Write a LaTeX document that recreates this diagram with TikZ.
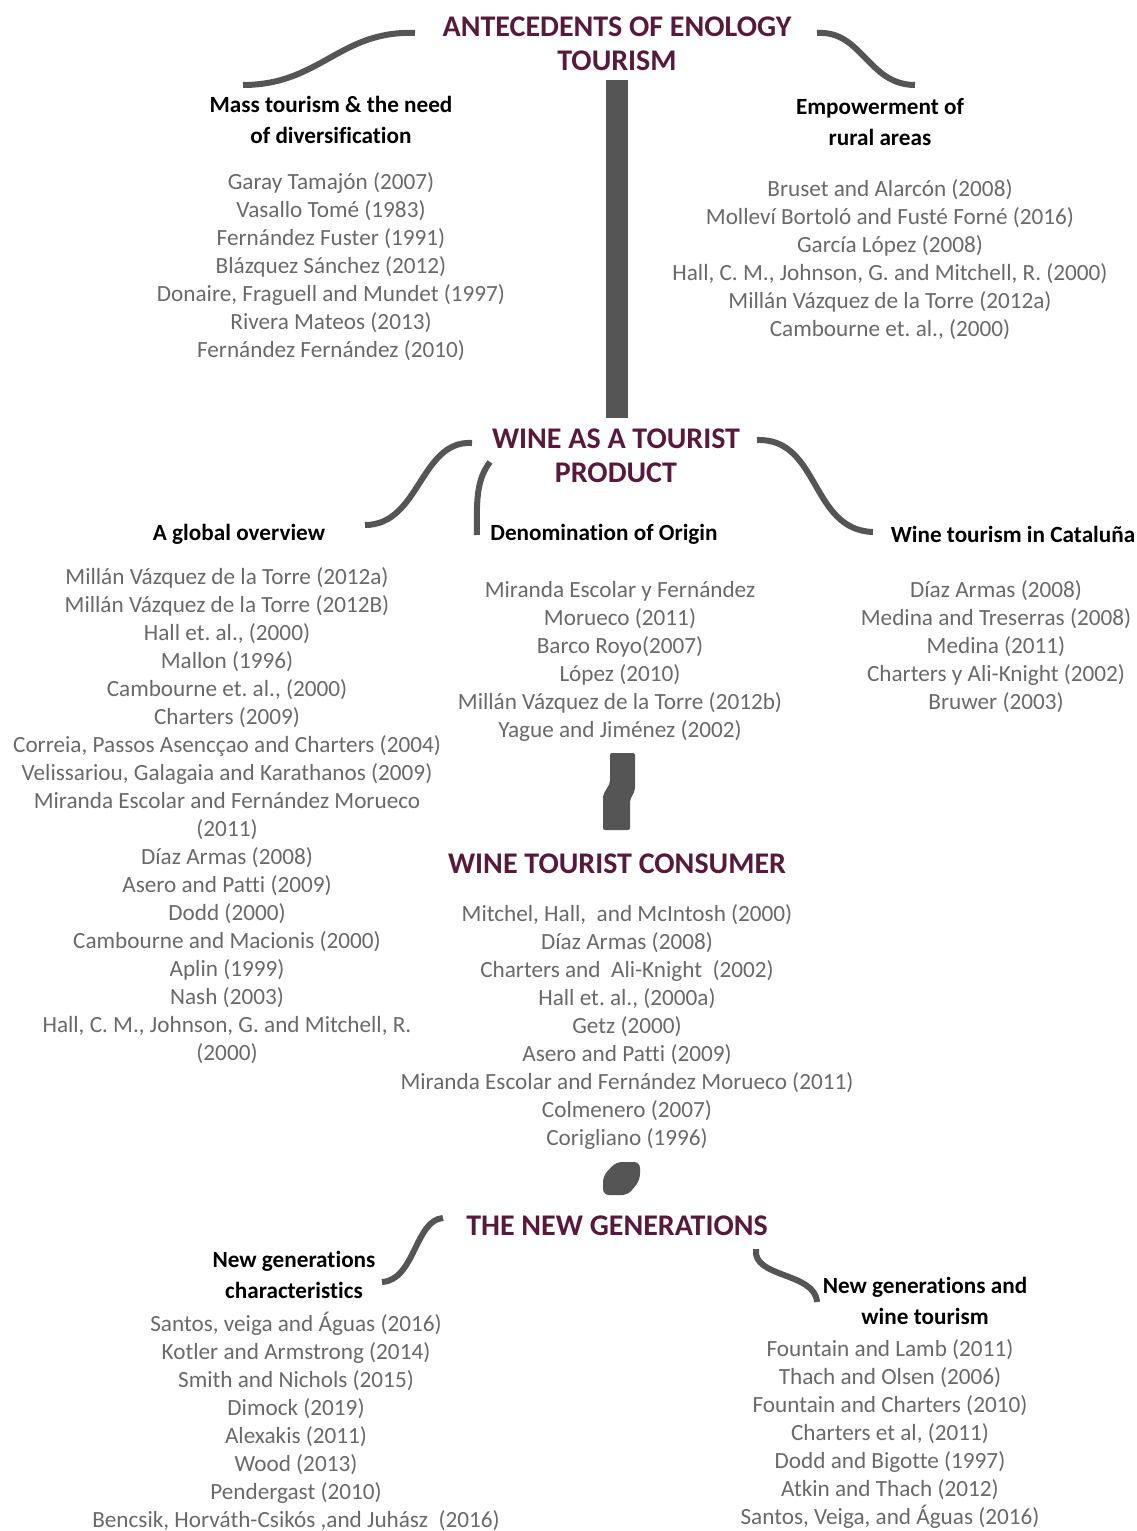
\documentclass[tikz,border=0pt]{standalone}
\usepackage{fontspec}
\setmainfont{Carlito}[Ligatures=NoCommon]
\frenchspacing
\definecolor{wine}{RGB}{88,26,58}
\definecolor{refgray}{RGB}{105,105,105}
\definecolor{linkgray}{RGB}{85,85,85}
\tikzset{
	heading/.style={font=\fontsize{30}{34}\selectfont\bfseries, text=wine, align=center, inner sep=0pt},
	subhead/.style={font=\fontsize{23.2}{31}\selectfont\bfseries, align=center, inner sep=0pt},
	refs/.style={font=\fontsize{23.2}{28}\selectfont, text=refgray, align=center, inner sep=0pt},
	link/.style={draw=linkgray, line width=6pt},
}
\begin{document}
\begin{tikzpicture}[x=1pt, y=-1pt]
	\useasboundingbox (0,0) rectangle (1137,1531);
	
	% Antecedents
	\node[heading] (ante) at (617,44) {ANTECEDENTS OF ENOLOGY\\TOURISM};
	\node[subhead] (mass) at (331,119.5) {Mass tourism \& the need\\of diversification};
	\node[refs] (massrefs) at (331,267) {Garay Tamajón (2007)\\Vasallo Tomé (1983)\\Fernández Fuster (1991)\\Blázquez Sánchez (2012)\\Donaire, Fraguell and Mundet (1997)\\Rivera Mateos (2013)\\Fernández Fernández (2010)};
	\node[subhead] (rural) at (880,122) {Empowerment of\\rural areas};
	\node[refs] (ruralrefs) at (890,260) {Bruset and Alarcón (2008)\\Molleví Bortoló and Fusté Forné (2016)\\García López (2008)\\Hall, C. M., Johnson, G. and Mitchell, R. (2000)\\Millán Vázquez de la Torre (2012a)\\Cambourne et. al., (2000)};
	\coordinate (a1) at (415,33);
	\coordinate (a2) at (243,85);
	\coordinate (a3) at (817,33);
	\coordinate (a4) at (915,85);
	\draw[link] (a1) .. controls (340,30) and (320,85) .. (a2);
	\draw[link] (a3) .. controls (862,30) and (868,85) .. (a4);
	
	% Wine as a tourist product
	\node[heading] (product) at (616,456) {WINE AS A TOURIST\\PRODUCT};
	\coordinate (b1) at (606,80);
	\coordinate (b2) at (628,418);
	\fill[linkgray] (b1) rectangle (b2);
	\node[subhead] (global) at (239,534) {A global overview};
	\node[subhead] (origin) at (604,534) {Denomination of Origin};
	\node[subhead] (cataluna) at (1013,534) {Wine tourism in Cataluña};
	\node[refs] (globalrefs) at (227,815.5) {Millán Vázquez de la Torre (2012a)\\Millán Vázquez de la Torre (2012B)\\Hall et. al., (2000)\\Mallon (1996)\\Cambourne et. al., (2000)\\Charters (2009)\\Correia, Passos Asencçao and Charters (2004)\\Velissariou, Galagaia and Karathanos (2009)\\Miranda Escolar and Fernández Morueco\\(2011)\\Díaz Armas (2008)\\Asero and Patti (2009)\\Dodd (2000)\\Cambourne and Macionis (2000)\\Aplin (1999)\\Nash (2003)\\Hall, C. M., Johnson, G. and Mitchell, R.\\(2000)};
	\node[refs] (originrefs) at (620,661) {Miranda Escolar y Fernández\\Morueco (2011)\\Barco Royo(2007)\\López (2010)\\Millán Vázquez de la Torre (2012b)\\Yague and Jiménez (2002)};
	\node[refs] (catalunarefs) at (996,647) {Díaz Armas (2008)\\Medina and Treserras (2008)\\Medina (2011)\\Charters y Ali-Knight (2002)\\Bruwer (2003)};
	\coordinate (c1) at (472,443);
	\coordinate (c2) at (365,525);
	\coordinate (c3) at (490,462);
	\coordinate (c4) at (477,535);
	\coordinate (c5) at (757,440);
	\coordinate (c6) at (873,532);
	\draw[link] (c1) .. controls (420,440) and (420,525) .. (c2);
	\draw[link] (c3) .. controls (478,478) and (476,495) .. (c4);
	\draw[link] (c5) .. controls (820,438) and (810,530) .. (c6);
	
	% Wine tourist consumer
	\node[heading] (consumer) at (617,864) {WINE TOURIST CONSUMER};
	\node[refs] (consumerrefs) at (627,1026.5) {Mitchel, Hall, \ and McIntosh (2000)\\Díaz Armas (2008)\\Charters and \ Ali-Knight \ (2002)\\Hall et. al., (2000a)\\Getz (2000)\\Asero and Patti (2009)\\Miranda Escolar and Fernández Morueco (2011)\\Colmenero (2007)\\Corigliano (1996)};
	\fill[linkgray, rounded corners=2pt] (610,753) -- (635,753) -- (635,790) -- (630,800) -- (630,830) -- (603,830) -- (603,795) -- (610,783) -- cycle;
	
	% The new generations
	\node[heading] (newgen) at (617,1226) {THE NEW GENERATIONS};
	\fill[linkgray, rounded corners=6pt] (616,1162) -- (640,1162) -- (640,1180) -- (628,1195) -- (603,1195) -- (603,1176) -- cycle;
	\node[subhead] (traits) at (294,1274.5) {New generations\\characteristics};
	\node[refs] (traitsrefs) at (296,1421) {Santos, veiga and Águas (2016)\\Kotler and Armstrong (2014)\\Smith and Nichols (2015)\\Dimock (2019)\\Alexakis (2011)\\Wood (2013)\\Pendergast (2010)\\Bencsik, Horváth-Csikós ,and Juhász \ (2016)};
	\node[subhead] (winegen) at (925,1300.5) {New generations and\\wine tourism};
	\node[refs] (winegenrefs) at (890,1433.5) {Fountain and Lamb (2011)\\Thach and Olsen (2006)\\Fountain and Charters (2010)\\Charters et al, (2011)\\Dodd and Bigotte (1997)\\Atkin and Thach (2012)\\Santos, Veiga, and Águas (2016)};
	\coordinate (d1) at (443,1218);
	\coordinate (d2) at (382,1282);
	\coordinate (d3) at (756,1249);
	\coordinate (d4) at (817,1302);
	\draw[link] (d1) .. controls (415,1220) and (415,1280) .. (d2);
	\draw[link] (d3) .. controls (752,1278) and (815,1272) .. (d4);
\end{tikzpicture}
\end{document}
